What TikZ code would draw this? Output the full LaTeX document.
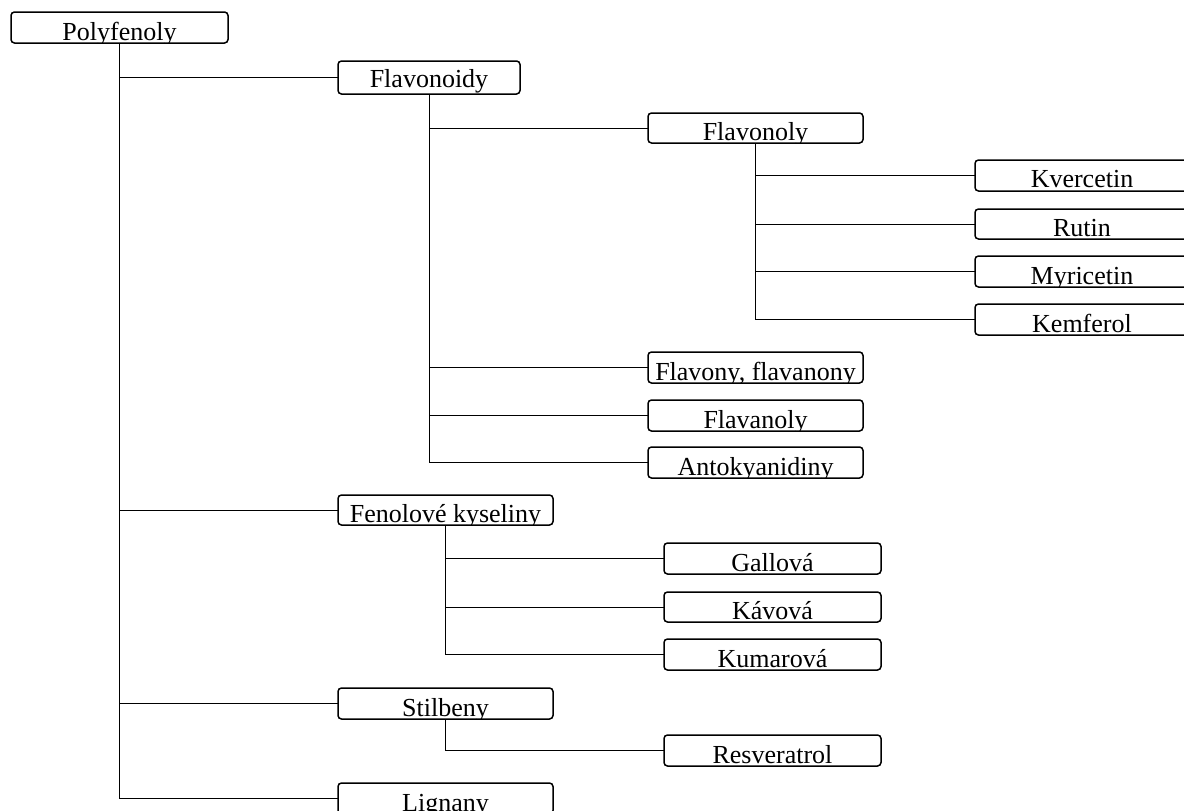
\documentclass[tikz,border=0pt]{standalone}
\usepackage{fontspec}
\setmainfont{Liberation Serif}
\usetikzlibrary{fit}
\tikzset{
  boxshape/.style={rectangle, draw=none, inner sep=0pt, outer sep=0pt},
  boxline/.style={draw=black, line width=1.5pt, rounded corners=3.5pt},
  conn/.style={draw=black, line width=1pt},
  lbl/.style={anchor=base, inner sep=0pt, font=\fontsize{26}{30}\selectfont},
}
% name, left, top, right, bottom, baseline offset, text
\newcommand\mybox[7]{%
  \node[boxshape, fit={(#2,#3) (#4,#5)}] (#1) {};
  \begin{scope}
    \clip (#1.south west) rectangle (#1.north east);
    \node[lbl] (#1-t) at ([yshift=#6pt]#1.south) {#7};
  \end{scope}
  \draw[boxline] (#1.south west) rectangle (#1.north east);
}
\begin{document}
\begin{tikzpicture}[x=1pt, y=-1pt]
\useasboundingbox (0,0) rectangle (1184,811);
\fill[white] (0,0) rectangle (1184,811);

% connectors first
\path (11,12) coordinate (dummy);
\mybox{poly}{11}{12}{228}{43}{2.5}{Polyfenoly}
\mybox{flavonoidy}{338}{61}{520}{94}{7}{Flavonoidy}
\mybox{flavonoly}{648}{113}{863}{143}{3}{Flavonoly}
\mybox{kvercetin}{975}{160}{1189}{191}{4}{Kvercetin}
\mybox{rutin}{975}{209}{1189}{239}{2.5}{Rutin}
\mybox{myricetin}{975}{256}{1189}{287}{2.5}{Myricetin}
\mybox{kemferol}{975}{304}{1189}{335}{2.5}{Kemferol}
\mybox{flavony}{648}{352}{863}{383}{3}{Flavony, flavanony}
\mybox{flavanoly}{648}{400}{863}{431}{3}{Flavanoly}
\mybox{antok}{648}{447}{863}{478}{3}{Antokyanidiny}
\mybox{fenol}{338}{495}{553}{525}{2.5}{Fenolové kyseliny}
\mybox{gallova}{664}{543}{881}{574}{3}{Gallová}
\mybox{kavova}{664}{592}{881}{622}{2.5}{Kávová}
\mybox{kumarova}{664}{639}{881}{670}{2.5}{Kumarová}
\mybox{stilbeny}{338}{688}{553}{719}{3}{Stilbeny}
\mybox{resveratrol}{664}{735}{881}{766}{3}{Resveratrol}
\mybox{lignany}{338}{783}{553}{814}{3}{Lignany}

\draw[conn] (poly.south) |- (flavonoidy.west);
\draw[conn] (poly.south) |- (fenol.west);
\draw[conn] (poly.south) |- (stilbeny.west);
\draw[conn] (poly.south) |- (lignany.west);

\draw[conn] (flavonoidy.south) |- (flavonoly.west);
\draw[conn] (flavonoidy.south) |- (flavony.west);
\draw[conn] (flavonoidy.south) |- (flavanoly.west);
\draw[conn] (flavonoidy.south) |- (antok.west);

\draw[conn] (flavonoly.south) |- (kvercetin.west);
\draw[conn] (flavonoly.south) |- (rutin.west);
\draw[conn] (flavonoly.south) |- (myricetin.west);
\draw[conn] (flavonoly.south) |- (kemferol.west);

\draw[conn] (fenol.south) |- (gallova.west);
\draw[conn] (fenol.south) |- (kavova.west);
\draw[conn] (fenol.south) |- (kumarova.west);

\draw[conn] (stilbeny.south) |- (resveratrol.west);
\end{tikzpicture}
\end{document}
